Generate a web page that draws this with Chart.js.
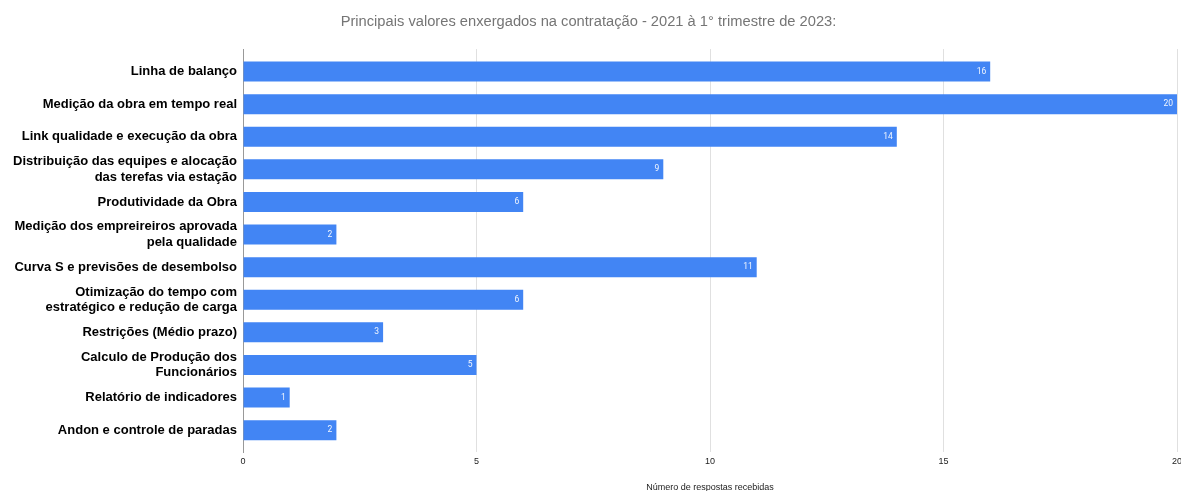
<!DOCTYPE html>
<html><head><meta charset="utf-8">
<script src="https://cdn.jsdelivr.net/npm/chart.js@4/dist/chart.umd.min.js"></script>
<style>html,body{margin:0;padding:0;background:#fff}#wrap{width:1181px;height:491px}</style>
</head><body><div id="wrap"><canvas id="c"></canvas></div>
<script>
const categories = [
  "Linha de balanço",
  "Medição da obra em tempo real",
  "Link qualidade e execução da obra",
  ["Distribuição das equipes e alocação","das terefas via estação"],
  "Produtividade da Obra",
  ["Medição dos empreireiros aprovada","pela qualidade"],
  "Curva S e previsões de desembolso",
  ["Otimização do tempo com","estratégico e redução de carga"],
  "Restrições (Médio prazo)",
  ["Calculo de Produção dos","Funcionários"],
  "Relatório de indicadores",
  "Andon e controle de paradas"
];
const values = [16, 20, 14, 9, 6, 2, 11, 6, 3, 5, 1, 2];
const xTicks = [0, 5, 10, 15, 20];
const titleText = "Principais valores enxergados na contratação - 2021 à 1° trimestre de 2023:";
const xTitle = "Número de respostas recebidas";

const barLabels = {
  id: 'barLabels',
  afterDatasetsDraw(chart) {
    const ctx = chart.ctx;
    const meta = chart.getDatasetMeta(0);
    ctx.save();
    ctx.font = '8.5px Roboto, Arial, sans-serif';
    ctx.fillStyle = 'rgba(255,255,255,0.92)';
    ctx.textAlign = 'right';
    ctx.textBaseline = 'middle';
    meta.data.forEach((bar, i) => {
      ctx.fillText(String(values[i]), bar.x - 4, bar.y);
    });
    ctx.restore();
  }
};

new Chart(document.getElementById('c'), {
  type: 'bar',
  data: {
    datasets: [{
      data: values.map((v, i) => ({ x: v, y: i })),
      backgroundColor: '#4285f4',
      borderWidth: 0,
      barPercentage: 0.613,
      categoryPercentage: 1.0
    }]
  },
  options: {
    indexAxis: 'y',
    responsive: true,
    maintainAspectRatio: false,
    animation: false,
    layout: { padding: { left: 0, right: 4, top: 0, bottom: 0 } },
    plugins: {
      legend: { display: false },
      tooltip: { enabled: false },
      title: {
        display: true,
        text: titleText,
        color: '#757575',
        font: { family: 'Arial, Liberation Sans, sans-serif', size: 14.7, weight: 'normal' },
        padding: { top: 13.2, bottom: 18.2 }
      }
    },
    scales: {
      x: {
        type: 'linear',
        min: 0, max: 20,
        afterBuildTicks(scale) { scale.ticks = xTicks.map(v => ({ value: v })); },
        afterFit(scale) { scale.height = 39; scale.paddingRight = 0; scale.paddingLeft = 0; },
        ticks: {
          color: '#222',
          font: { family: 'Arial, Liberation Sans, sans-serif', size: 9 },
          padding: 4,
          maxRotation: 0
        },
        grid: {
          color: (c) => c.tick && c.tick.value === 0 ? '#999999' : '#e0e0e0',
          drawTicks: false
        },
        border: { display: false },
        title: {
          display: true,
          text: xTitle,
          color: '#222',
          font: { family: 'Arial, Liberation Sans, sans-serif', size: 9 },
          padding: { top: 4, bottom: -2 }
        }
      },
      y: {
        type: 'linear',
        reverse: true,
        offset: false,
        min: -0.69,
        max: 11.67,
        afterBuildTicks(scale) { scale.ticks = categories.map((c, i) => ({ value: i })); },
        afterFit(scale) { scale.width = 243; },
        ticks: {
          color: '#000',
          font: { family: 'Arial, Liberation Sans, sans-serif', size: 13, weight: 'bold' },
          padding: 6,
          autoSkip: false,
          callback: (v) => categories[v]
        },
        grid: { display: false, drawTicks: false, offset: false },
        border: { display: true, color: '#999999', width: 1 }
      }
    }
  },
  plugins: [barLabels]
});
</script></body></html>
